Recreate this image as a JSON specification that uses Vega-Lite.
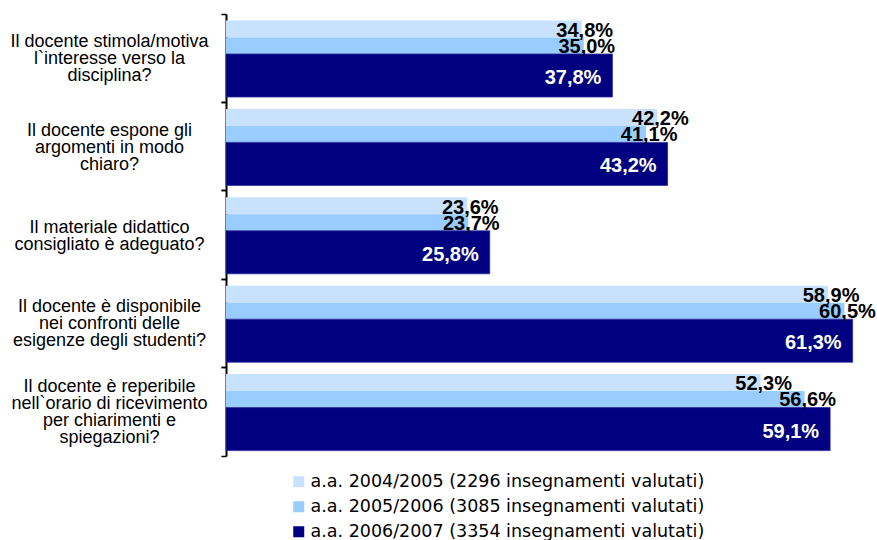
{
  "$schema": "https://vega.github.io/schema/vega-lite/v6.json",
  "autosize": "none",
  "width": 644,
  "height": 442,
  "padding": {"left": 226, "top": 14, "right": 7, "bottom": 84},
  "background": "white",
  "config": {
    "view": {"stroke": null},
    "locale": {"number": {"decimal": ",", "thousands": ".", "grouping": [3], "currency": ["", " €"]}},
    "font": "Liberation Sans"
  },
  "data": {
    "values": [
      {"cat": "Il docente stimola/motiva\nl`interesse verso la\ndisciplina?", "series": "a.a. 2004/2005 (2296 insegnamenti valutati)", "value": 0.348},
      {"cat": "Il docente stimola/motiva\nl`interesse verso la\ndisciplina?", "series": "a.a. 2005/2006 (3085 insegnamenti valutati)", "value": 0.350},
      {"cat": "Il docente stimola/motiva\nl`interesse verso la\ndisciplina?", "series": "a.a. 2006/2007 (3354 insegnamenti valutati)", "value": 0.378},
      {"cat": "Il docente espone gli\nargomenti in modo\nchiaro?", "series": "a.a. 2004/2005 (2296 insegnamenti valutati)", "value": 0.422},
      {"cat": "Il docente espone gli\nargomenti in modo\nchiaro?", "series": "a.a. 2005/2006 (3085 insegnamenti valutati)", "value": 0.411},
      {"cat": "Il docente espone gli\nargomenti in modo\nchiaro?", "series": "a.a. 2006/2007 (3354 insegnamenti valutati)", "value": 0.432},
      {"cat": "Il materiale didattico\nconsigliato è adeguato?", "series": "a.a. 2004/2005 (2296 insegnamenti valutati)", "value": 0.236},
      {"cat": "Il materiale didattico\nconsigliato è adeguato?", "series": "a.a. 2005/2006 (3085 insegnamenti valutati)", "value": 0.237},
      {"cat": "Il materiale didattico\nconsigliato è adeguato?", "series": "a.a. 2006/2007 (3354 insegnamenti valutati)", "value": 0.258},
      {"cat": "Il docente è disponibile\nnei confronti delle\nesigenze degli studenti?", "series": "a.a. 2004/2005 (2296 insegnamenti valutati)", "value": 0.589},
      {"cat": "Il docente è disponibile\nnei confronti delle\nesigenze degli studenti?", "series": "a.a. 2005/2006 (3085 insegnamenti valutati)", "value": 0.605},
      {"cat": "Il docente è disponibile\nnei confronti delle\nesigenze degli studenti?", "series": "a.a. 2006/2007 (3354 insegnamenti valutati)", "value": 0.613},
      {"cat": "Il docente è reperibile\nnell`orario di ricevimento\nper chiarimenti e\nspiegazioni?", "series": "a.a. 2004/2005 (2296 insegnamenti valutati)", "value": 0.523},
      {"cat": "Il docente è reperibile\nnell`orario di ricevimento\nper chiarimenti e\nspiegazioni?", "series": "a.a. 2005/2006 (3085 insegnamenti valutati)", "value": 0.566},
      {"cat": "Il docente è reperibile\nnell`orario di ricevimento\nper chiarimenti e\nspiegazioni?", "series": "a.a. 2006/2007 (3354 insegnamenti valutati)", "value": 0.591}
    ]
  },
  "encoding": {
    "y": {"field": "cat", "type": "nominal", "sort": null,
      "scale": {"paddingInner": 0, "paddingOuter": 0}},
    "x": {"field": "value", "type": "quantitative", "axis": null,
      "scale": {"domain": [0, 0.63], "nice": false, "zero": true}},
    "color": {"field": "series", "type": "nominal",
      "scale": {"domain": ["a.a. 2004/2005 (2296 insegnamenti valutati)", "a.a. 2005/2006 (3085 insegnamenti valutati)", "a.a. 2006/2007 (3354 insegnamenti valutati)"],
                "range": ["#c8e2fd", "#99ccff", "#000080"]},
      "legend": {"orient": "none", "legendX": 64, "legendY": 459, "title": null, "direction": "vertical",
        "symbolType": "square", "symbolSize": 121, "symbolStrokeWidth": 0, "symbolOpacity": 1,
        "labelFont": "DejaVu Sans", "labelFontSize": 17.5, "labelColor": "#000000",
        "rowPadding": 6, "labelOffset": 3, "padding": 0, "labelLimit": 600}}
  },
  "layer": [
    {
      "transform": [{"filter": "datum.series == 'a.a. 2004/2005 (2296 insegnamenti valutati)'"}],
      "mark": {"type": "bar", "height": 17, "yOffset": -29.2},
      "encoding": {
        "y": {"field": "cat", "type": "nominal", "sort": null,
          "axis": {"orient": "left", "title": null, "labels": false, "domain": false, "bandPosition": 1,
            "ticks": true, "tickColor": "#000000", "tickWidth": 1.5, "tickSize": 5, "grid": false}}
      }
    },
    {
      "transform": [{"filter": "datum.series == 'a.a. 2005/2006 (3085 insegnamenti valutati)'"}],
      "mark": {"type": "bar", "height": 16.5, "yOffset": -12.45},
      "encoding": {
        "y": {"field": "cat", "type": "nominal", "sort": null, "axis": null}
      }
    },
    {
      "transform": [{"filter": "datum.series == 'a.a. 2006/2007 (3354 insegnamenti valutati)'"}],
      "mark": {"type": "bar", "height": 43, "yOffset": 17.3, "stroke": "#2b2b9a", "strokeWidth": 0.8},
      "encoding": {
        "y": {"field": "cat", "type": "nominal", "sort": null,
          "axis": {"orient": "left", "title": null, "bandPosition": 0,
            "domain": true, "domainColor": "#000000", "domainWidth": 2,
            "ticks": true, "tickColor": "#000000", "tickWidth": 1.5, "tickSize": 5, "grid": false,
            "labelExpr": "split(datum.label, '\\n')",
            "labelAlign": "center", "labelBaseline": "middle", "labelPadding": 112,
            "labelOffset": {"condition": [
              {"test": "length(split(datum.value, '\\n')) == 4", "value": -24.5},
              {"test": "length(split(datum.value, '\\n')) == 2", "value": -7.5}
            ], "value": -16},
            "labelFont": "Liberation Sans", "labelFontSize": 18, "labelLineHeight": 17,
            "labelColor": "#000000", "labelLimit": 300, "labelOverlap": false}}
      }
    },
    {
      "transform": [{"filter": "datum.series == 'a.a. 2004/2005 (2296 insegnamenti valutati)'"}],
      "mark": {"type": "text", "align": "center", "baseline": "alphabetic", "dx": 3, "yOffset": -21.5,
        "font": "Liberation Sans", "fontSize": 20, "fontWeight": "bold"},
      "encoding": {
        "y": {"field": "cat", "type": "nominal", "sort": null, "axis": null},
        "text": {"field": "value", "type": "quantitative", "format": ".1%"},
        "color": {"value": "#000000"}
      }
    },
    {
      "transform": [{"filter": "datum.series == 'a.a. 2005/2006 (3085 insegnamenti valutati)'"}],
      "mark": {"type": "text", "align": "center", "baseline": "alphabetic", "dx": 3, "yOffset": -5.5,
        "font": "Liberation Sans", "fontSize": 20, "fontWeight": "bold"},
      "encoding": {
        "y": {"field": "cat", "type": "nominal", "sort": null, "axis": null},
        "text": {"field": "value", "type": "quantitative", "format": ".1%"},
        "color": {"value": "#000000"}
      }
    },
    {
      "transform": [{"filter": "datum.series == 'a.a. 2006/2007 (3354 insegnamenti valutati)'"}],
      "mark": {"type": "text", "align": "right", "baseline": "alphabetic", "dx": -11, "yOffset": 25.8,
        "font": "Liberation Sans", "fontSize": 20, "fontWeight": "bold"},
      "encoding": {
        "y": {"field": "cat", "type": "nominal", "sort": null, "axis": null},
        "text": {"field": "value", "type": "quantitative", "format": ".1%"},
        "color": {"value": "#ffffff"}
      }
    }
  ],
  "resolve": {"axis": {"y": "independent"}}
}
